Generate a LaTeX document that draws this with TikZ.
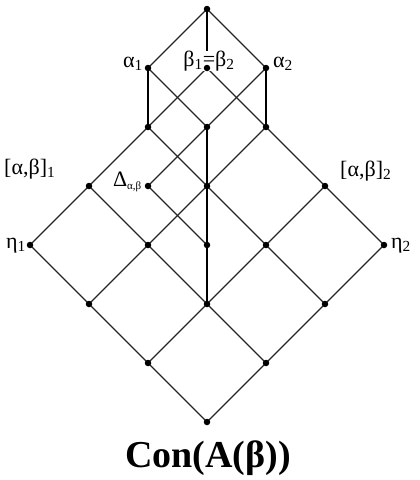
\documentclass[tikz,border=0pt]{standalone}
\usepackage{fontspec}
\setmainfont{Liberation Serif}
\begin{document}
\begin{tikzpicture}[x=1pt,y=-1pt,
  edge/.style={line width=1.1pt, black!85},
  vedge/.style={line width=1.5pt, black},
  dot/.style={circle, fill=black, inner sep=0pt, minimum size=6.5pt},
  lbl/.style={font=\fontsize{22}{24}\selectfont, inner sep=0pt},
  title/.style={font=\fontsize{38}{40}\selectfont\bfseries, inner sep=0pt}]
\useasboundingbox (0,0) rectangle (420,480);
% grid coordinates
\foreach \u in {0,...,3}{\foreach \v in {0,...,3}{
  \coordinate (g\u\v) at ({207-59*\u+59*\v},{422-59*\u-59*\v});
}}
\coordinate (X) at (207,245);
\coordinate (D) at (148,186);
\coordinate (B) at (207,127);
\coordinate (a1) at (148,68);
\coordinate (a2) at (266,68);
\coordinate (top) at (207,9);
% grid edges
\foreach \u in {0,1,2}{\foreach \v in {0,...,3}{
  \pgfmathtruncatemacro\w{\u+1}
  \draw[edge] (g\u\v) -- (g\w\v);
  \draw[edge] (g\v\u) -- (g\v\w);
}}
% extra edges
\draw[vedge] (g11) -- (X) -- (g22) -- (B);
\draw[edge] (D) -- (X);
\draw[edge] (D) -- (B);
\draw[vedge] (a1) -- (g32);
\draw[vedge] (a2) -- (g23);
\draw[edge] (a1) -- (B);
\draw[edge] (a2) -- (B);
\draw[edge] (top) -- (a1);
\draw[edge] (top) -- (a2);
\draw[vedge] (top) -- (g33);
% labels
\node[lbl, fill=white, anchor=base] (lb) at (209,66) {β\textsubscript{1}=β\textsubscript{2}};
\node[lbl, anchor=base east] (la1) at (143,67) {α\textsubscript{1}};
\node[lbl, anchor=base west] (la2) at (273,67) {α\textsubscript{2}};
\node[lbl, anchor=base west] (lab1) at (4,174) {[α,β]\textsubscript{1}};
\node[lbl, anchor=base west] (lab2) at (340,176) {[α,β]\textsubscript{2}};
\node[lbl, anchor=base east] (lD) at (142,186) {Δ\textsubscript{\fontsize{11}{12}\selectfont α,β}};
\node[lbl, anchor=base east] (le1) at (26,248) {η\textsubscript{1}};
\node[lbl, anchor=base west] (le2) at (391,248) {η\textsubscript{2}};
\node[title, anchor=base] (t) at (208,467) {Con(A(β))};
% dots
\foreach \u in {0,...,3}{\foreach \v in {0,...,3}{
  \node[dot] (n\u\v) at (g\u\v) {};
}}
\foreach \c in {X,D,B,a1,a2,top}{\node[dot] (n\c) at (\c) {};}
\end{tikzpicture}
\end{document}
